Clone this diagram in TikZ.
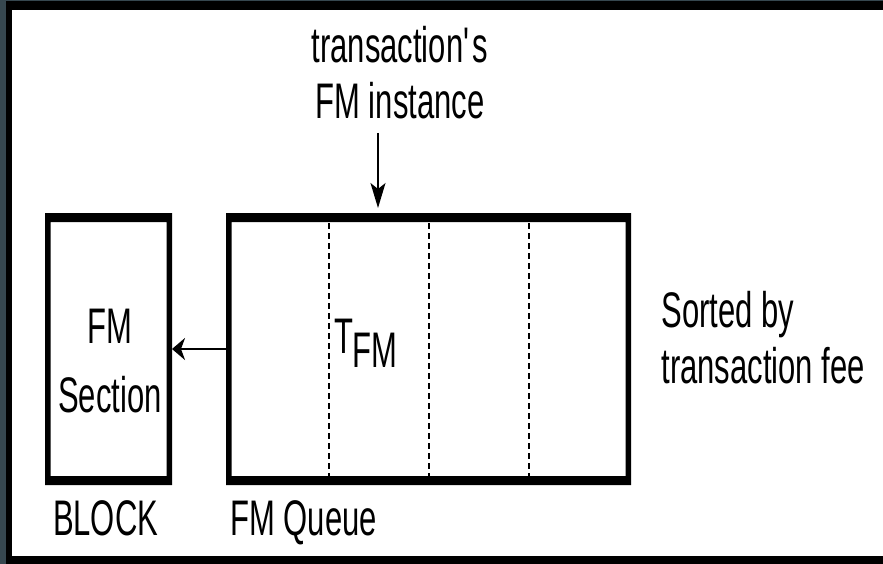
\documentclass[tikz,border=0pt]{standalone}
\usepackage{fontspec}
\usetikzlibrary{arrows.meta}
\newfontfamily\labfont{Liberation Sans}[FakeStretch=0.62]
\definecolor{slate}{RGB}{54,71,79}
\begin{document}
\begin{tikzpicture}[x=1pt,y=-1pt,
  lab/.style={font=\labfont\fontsize{50}{56}\selectfont, inner sep=0pt, outer sep=0pt},
  boxshape/.style={rectangle, draw=none, inner sep=0pt, outer sep=0pt},
  divider/.style={dash pattern=on 6pt off 4pt, line width=1.3pt},
  conn/.style={line width=1.5pt}]
\useasboundingbox (0,0) rectangle (883,564);
\fill[slate] (0,0) rectangle (883,564);
\fill[black] (6,1) rectangle (883,564);
\fill[white] (11.5,10.5) rectangle (883,556);

\node[boxshape, minimum width=127pt, minimum height=272pt] (block) at (108.5,349) {};
\node[boxshape, minimum width=405pt, minimum height=272pt] (queue) at (428.5,349) {};

\foreach \x in {329,429,529} \draw[divider] (\x,213) -- (\x,485);

\foreach \n in {block,queue}
  \fill[black,even odd rule] (\n.north west) rectangle (\n.south east)
    ([xshift=5.5pt,yshift=-9pt]\n.north west) rectangle ([xshift=-5.5pt,yshift=9pt]\n.south east);

\node[lab, font=\labfont\fontsize{50}{69}\selectfont, align=center, anchor=base] (blocktext) at (110,412) {FM\\Section};
\node[lab, anchor=base west] (blocklabel) at (53,535) {BLOCK};
\node[lab, anchor=base west] (queuelabel) at (230.5,535) {FM Queue};
\node[lab, anchor=base west] (tfm) at (334,353) {T\raisebox{-14pt}{FM}};
\node[lab, align=center, anchor=base] (fmlabel) at (400,119) {transaction\textquotesingle s\\FM instance};
\node[lab, align=left, anchor=base west] (sortlabel) at (661.5,383) {Sorted by\\transaction fee};

\draw[conn, line width=2.2pt, -{Stealth[length=13pt,width=22pt,inset=4pt]}] (queue.west) -- (block.east);
\coordinate (instsrc) at (378,133);
\draw[conn, -{Stealth[length=25pt,width=15pt,inset=6pt]}, shorten >=5pt] (instsrc) -- (instsrc |- queue.north);
\end{tikzpicture}
\end{document}
